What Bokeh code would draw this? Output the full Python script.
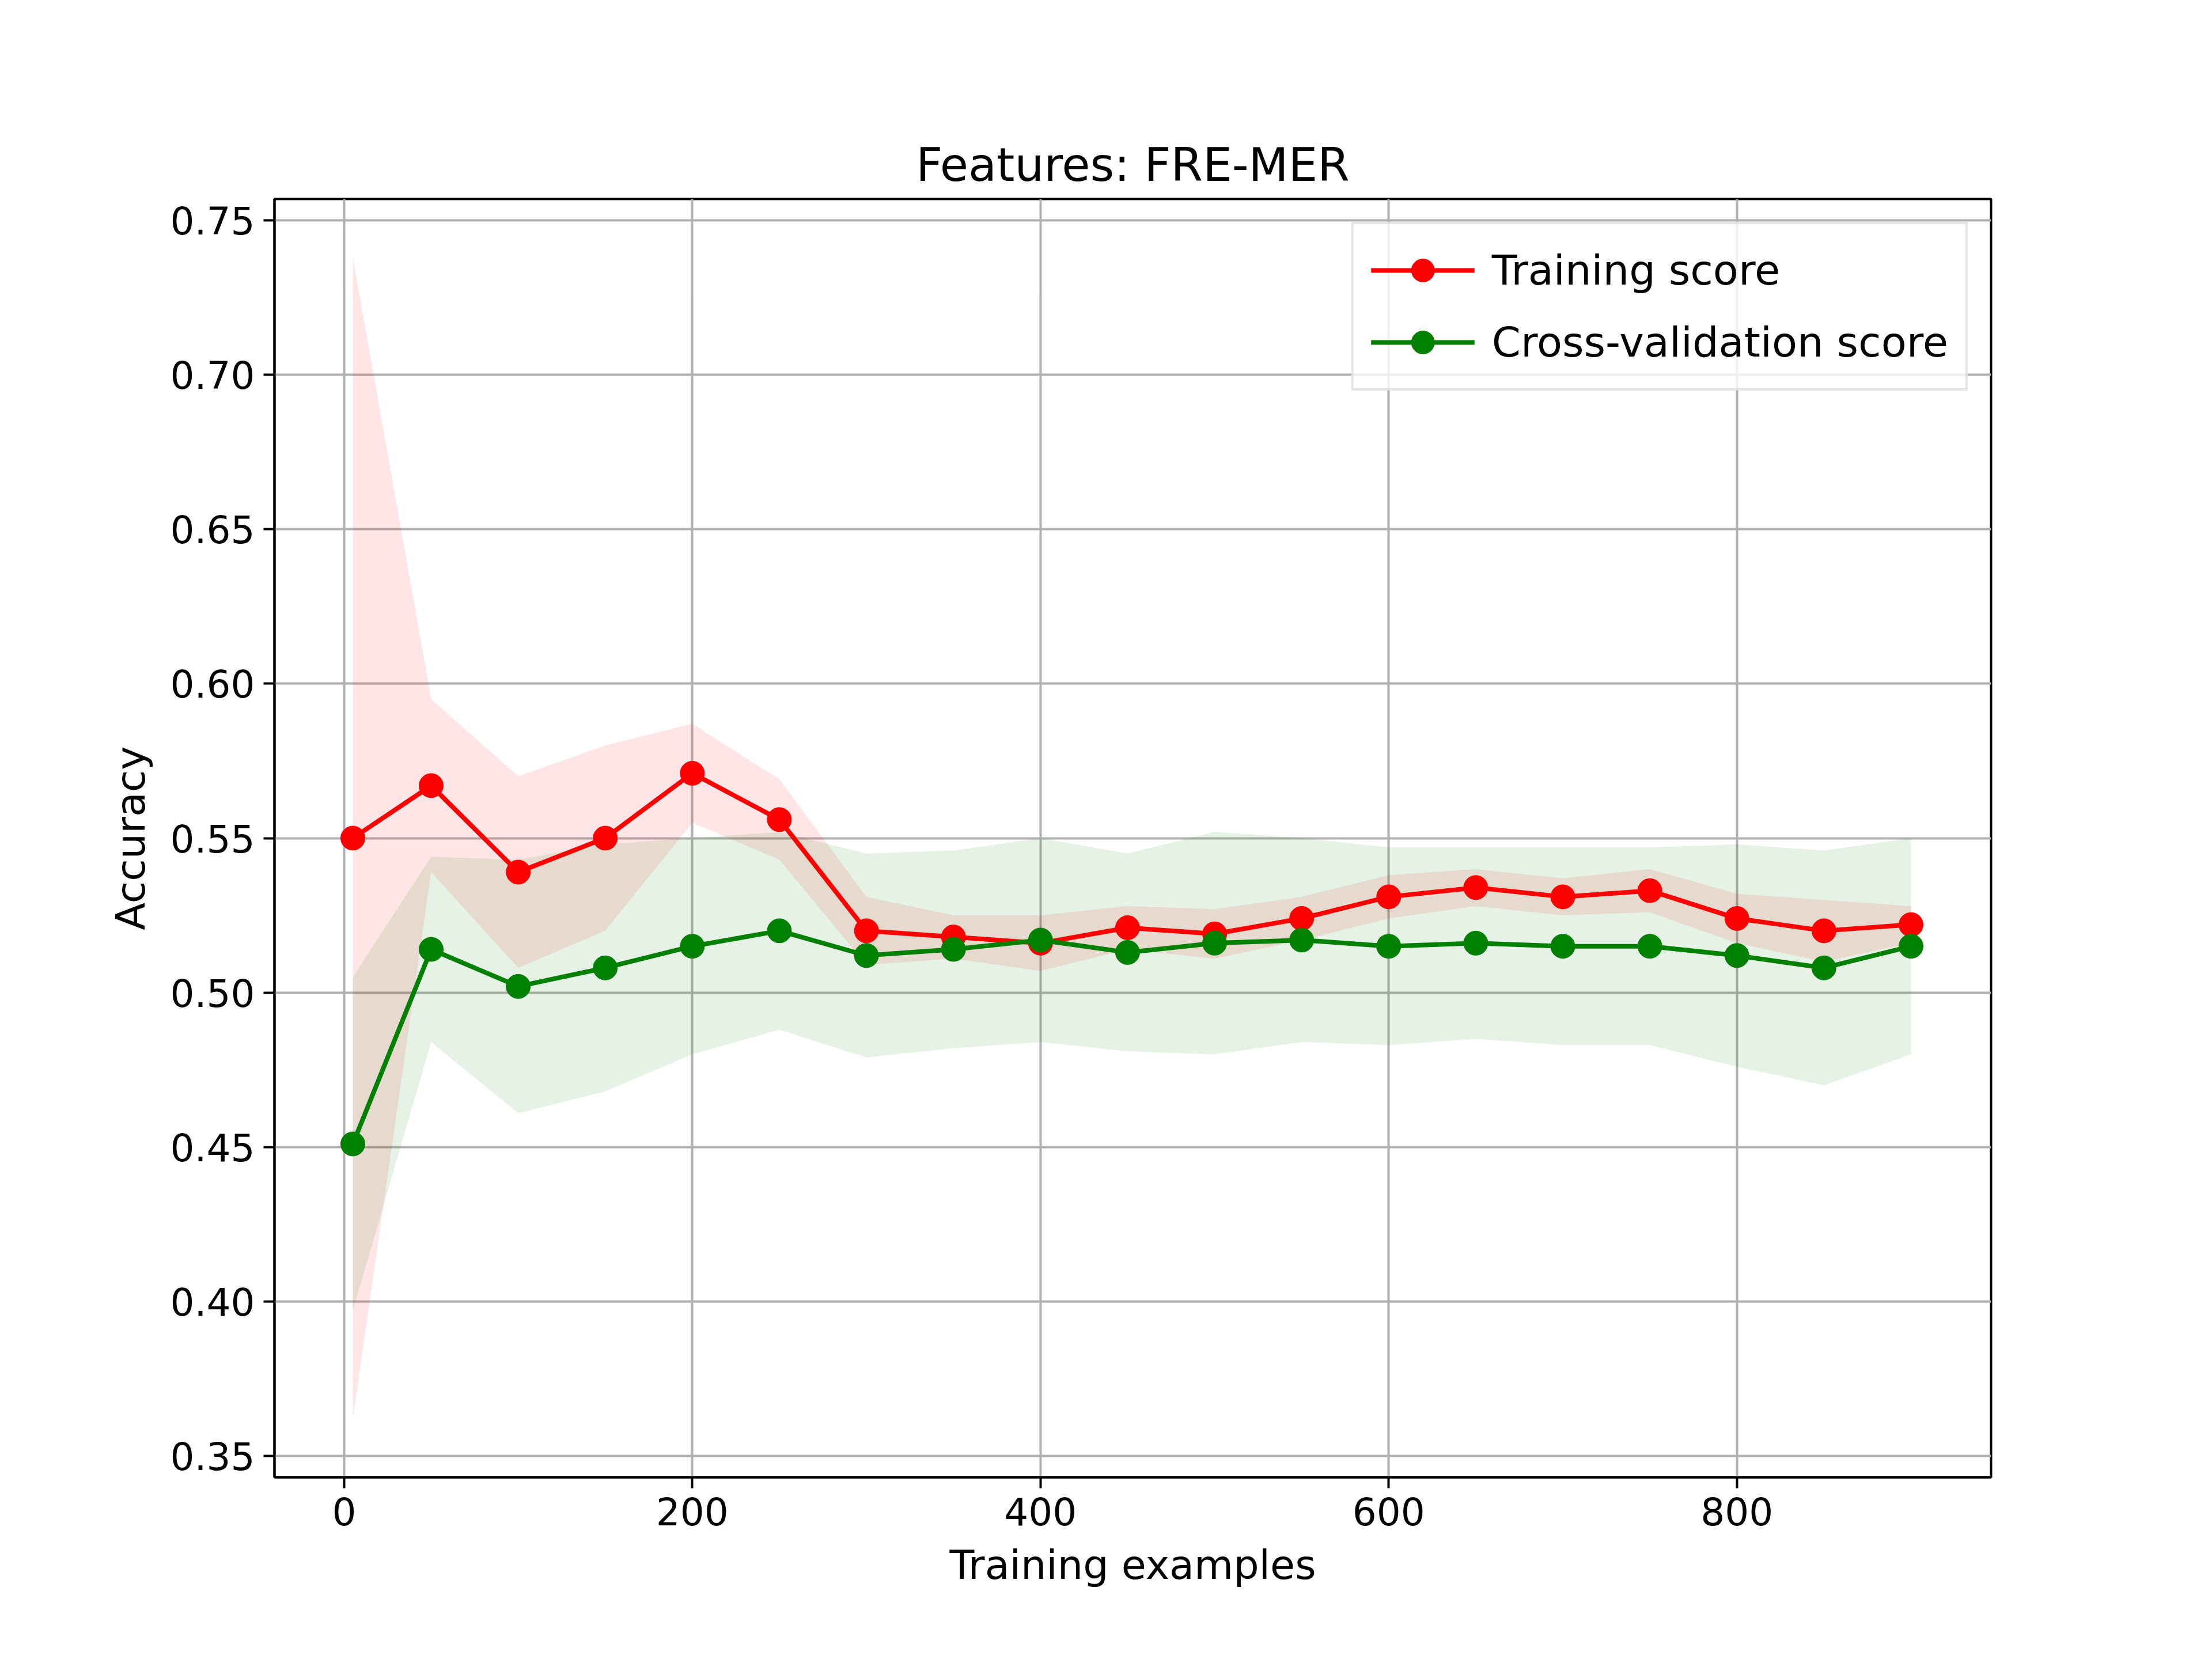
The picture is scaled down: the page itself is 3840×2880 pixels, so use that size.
from bokeh.plotting import figure
from bokeh.models import ColumnDataSource, Legend, LegendItem, FixedTicker, Range1d, CustomJSTickFormatter
from bokeh.embed import file_html
from bokeh.resources import INLINE

sizes = [5, 50, 100, 150, 200, 250, 300, 350, 400, 450, 500, 550, 600, 650, 700, 750, 800, 850, 900]
train_mean = [0.550, 0.567, 0.539, 0.550, 0.571, 0.556, 0.520, 0.518, 0.516, 0.521, 0.519, 0.524, 0.531, 0.534, 0.531, 0.533, 0.524, 0.520, 0.522]
train_std = [0.188, 0.028, 0.031, 0.030, 0.016, 0.013, 0.011, 0.007, 0.009, 0.007, 0.008, 0.007, 0.007, 0.006, 0.006, 0.007, 0.008, 0.010, 0.006]
cv_mean = [0.451, 0.514, 0.502, 0.508, 0.515, 0.520, 0.512, 0.514, 0.517, 0.513, 0.516, 0.517, 0.515, 0.516, 0.515, 0.515, 0.512, 0.508, 0.515]
cv_std = [0.054, 0.030, 0.041, 0.040, 0.035, 0.032, 0.033, 0.032, 0.033, 0.032, 0.036, 0.033, 0.032, 0.031, 0.032, 0.032, 0.036, 0.038, 0.035]

FONT = "DejaVu Sans"
p = figure(width=3824, height=2864, output_backend="svg", toolbar_location=None,
           x_range=Range1d(-40, 946), y_range=Range1d(0.3431, 0.7569),
           min_border_left=476, min_border_right=368, min_border_top=345, min_border_bottom=300)
p.title.text = "Features: FRE-MER"
p.title.text_font = FONT
p.title.text_font_size = "80px"
p.title.text_font_style = "normal"
p.title.text_color = "black"
p.title.align = "center"
p.title.standoff = 25

tu = [m + s for m, s in zip(train_mean, train_std)]
tl = [m - s for m, s in zip(train_mean, train_std)]
cu = [m + s for m, s in zip(cv_mean, cv_std)]
cl = [m - s for m, s in zip(cv_mean, cv_std)]
src = ColumnDataSource(dict(x=sizes, tm=train_mean, cm=cv_mean, tu=tu, tl=tl, cu=cu, cl=cl))

p.varea(x="x", y1="tl", y2="tu", source=src, fill_color="red", fill_alpha=0.1)
p.varea(x="x", y1="cl", y2="cu", source=src, fill_color="green", fill_alpha=0.1)
l1 = p.line("x", "tm", source=src, line_color="red", line_width=8)
s1 = p.scatter("x", "tm", source=src, size=42, fill_color="red", line_color="red")
l2 = p.line("x", "cm", source=src, line_color="green", line_width=8)
s2 = p.scatter("x", "cm", source=src, size=42, fill_color="green", line_color="green")

legend = Legend(items=[LegendItem(label="Training score", renderers=[l1, s1]),
                       LegendItem(label="Cross-validation score", renderers=[l2, s2])],
                location="top_right", label_text_font=FONT, label_text_font_size="72px",
                label_text_color="black",
                glyph_width=180, glyph_height=100, label_height=100, spacing=25,
                padding=30, margin=40, border_line_color="#cccccc", border_line_width=4,
                background_fill_alpha=0.8, label_standoff=30)
p.add_layout(legend)

p.xaxis.ticker = FixedTicker(ticks=[0, 200, 400, 600, 800])
p.yaxis.ticker = FixedTicker(ticks=[0.35, 0.40, 0.45, 0.50, 0.55, 0.60, 0.65, 0.70, 0.75])
p.yaxis.formatter = CustomJSTickFormatter(code="return tick.toFixed(2);")
for ax in (p.xaxis, p.yaxis):
    ax.major_label_text_font = FONT
    ax.major_label_text_font_size = "66px"
    ax.major_label_text_color = "black"
    ax.axis_label_text_font = FONT
    ax.axis_label_text_font_size = "70px"
    ax.axis_label_text_font_style = "normal"
    ax.axis_label_text_color = "black"
    ax.axis_label_standoff = 25
    ax.major_tick_out = 19
    ax.major_tick_in = 0
    ax.minor_tick_out = 0
    ax.minor_tick_in = 0
    ax.major_tick_line_width = 4
    ax.axis_line_width = 4
    ax.major_label_standoff = 15
p.xaxis.axis_label = "Training examples"
p.yaxis.axis_label = "Accuracy"
p.grid.grid_line_color = "#b0b0b0"
p.grid.grid_line_width = 4
p.outline_line_color = "black"
p.outline_line_width = 4

open("out.html", "w").write(file_html(p, INLINE))
